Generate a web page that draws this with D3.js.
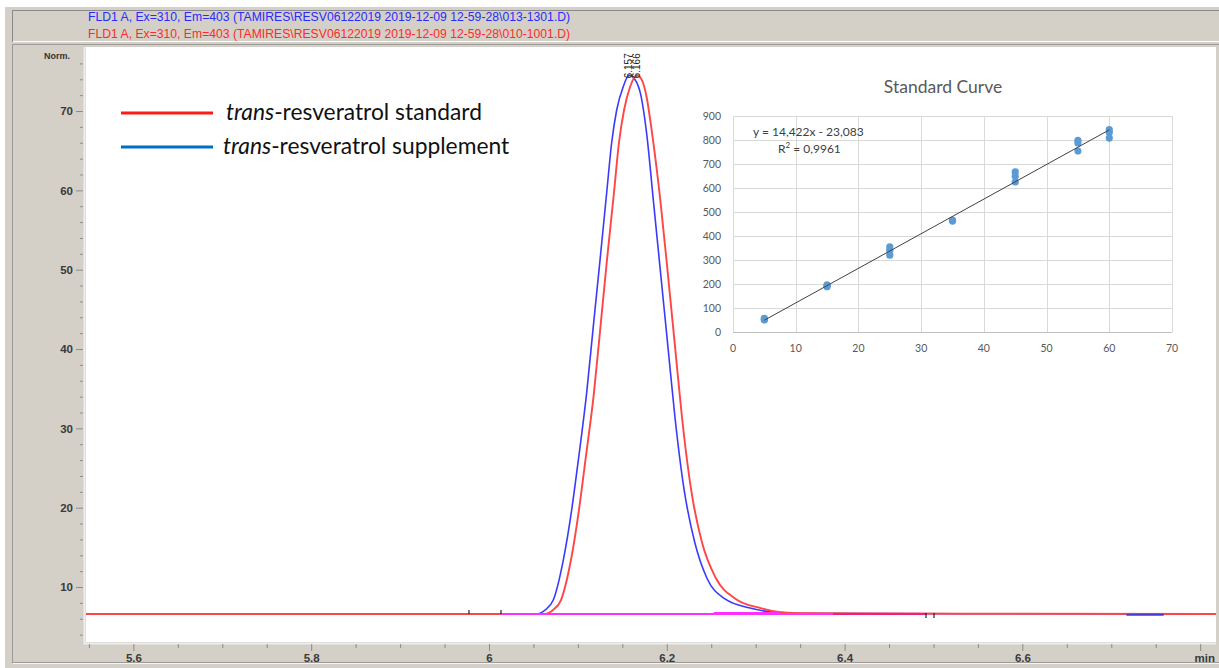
<!DOCTYPE html>
<html><head><meta charset="utf-8">
<script src="https://cdn.jsdelivr.net/npm/d3@7/dist/d3.min.js"></script>
<style>html,body{margin:0;padding:0;background:#fff;overflow:hidden}svg{display:block}</style>
</head><body>
<svg id="c" width="1219" height="668"></svg>
<script>
// ---------------- data ----------------
const headerLines = [
  "FLD1 A, Ex=310, Em=403 (TAMIRES\\RESV06122019 2019-12-09 12-59-28\\013-1301.D)",
  "FLD1 A, Ex=310, Em=403 (TAMIRES\\RESV06122019 2019-12-09 12-59-28\\010-1001.D)"
];
const xMajorTicks = [5.6, 5.8, 6.0, 6.2, 6.4, 6.6, 6.8];
const xTickLabels = ["5.6", "5.8", "6", "6.2", "6.4", "6.6", "min"];
const yMajorTicks = [10, 20, 30, 40, 50, 60, 70];
const yAxisTitle = "Norm.";

// supplement (blue) trace: retention time (min) / signal (Norm.)
const suppT = [5.54, 6.0537, 6.0630, 6.0723, 6.0836, 6.0930, 6.1005, 6.1099, 6.1173, 6.1249, 6.1324, 6.1380, 6.1436, 6.1511, 6.1575, 6.1640, 6.1710, 6.1771, 6.1852, 6.1931, 6.2012, 6.2092, 6.2193, 6.2313, 6.2452, 6.2655, 6.2936, 6.3172, 6.3330, 6.82];
const suppV = [6.6, 6.6, 7.1, 8.36, 13.4, 19.7, 26.0, 34.5, 42.8, 51.2, 59.7, 66.0, 70.1, 73.1, 74.5, 74.0, 71.9, 67.4, 58.4, 49.5, 40.4, 31.4, 22.4, 15.7, 11.1, 8.5, 7.35, 6.85, 6.7, 6.6];
// standard (red) trace
const stdT = [5.54, 6.0630, 6.0720, 6.0810, 6.0922, 6.1012, 6.1085, 6.1181, 6.1254, 6.1327, 6.1406, 6.1462, 6.1519, 6.1586, 6.1665, 6.1720, 6.1771, 6.1831, 6.1931, 6.2012, 6.2092, 6.2171, 6.2272, 6.2394, 6.2553, 6.2775, 6.3056, 6.3258, 6.3450, 6.82];
const stdV = [6.6, 6.6, 7.1, 8.36, 13.4, 19.7, 26.0, 34.5, 42.8, 51.2, 59.7, 66.0, 70.1, 73.0, 74.5, 73.9, 71.9, 67.5, 58.4, 49.5, 40.4, 31.4, 22.4, 15.7, 11.1, 8.5, 7.35, 6.85, 6.7, 6.6];

const peakTimes = [6.157, 6.166];
const peakLabels = ["6.157", "6.166"];
const peakTops = [74.5, 74.5];

// integration baselines / events
const magentaStart = [6.0146, 6.253];
const magentaEnd = [6.387, 6.327];
const magentaLevel = [6.6, 6.72];
const crimsonStart = [6.387];
const crimsonEnd = [6.4916];
const blueDipStart = [6.717];
const blueDipEnd = [6.759];
const blueDipLevel = [6.5];
const eventTimes = [5.9775, 6.0135, 6.4916, 6.5006];
const eventDir = [1, 1, -1, -1];

// legend
const legendItalic = ["trans", "trans"];
const legendRest = ["-resveratrol standard", "-resveratrol supplement"];
const legendColors = ["#ff1a1a", "#0070c0"];

// inset: standard curve
const insetTitle = "Standard Curve";
const concX = [5, 5, 5, 15, 15, 15, 25, 25, 25, 35, 35, 45, 45, 45, 55, 55, 55, 60, 60, 60];
const areaY = [57, 50, 53, 196, 189, 193, 355, 341, 320, 466, 462, 667, 649, 625, 799, 788, 754, 843, 831, 808];
const trendX = [5, 60];
const trendY = [49.0, 842.2];
const insetXTicks = [0, 10, 20, 30, 40, 50, 60, 70];
const insetYTicks = [0, 100, 200, 300, 400, 500, 600, 700, 800, 900];
const equationText = "y = 14,422x - 23,083";
const r2Text = ["R", "2", " = 0,9961"];

// ---------------- drawing ----------------
const svg = d3.select("#c");
const GRAY = "#d4d0c8";
const chemFont = "'Liberation Sans', Arial, sans-serif";
const xlFont = "Lato, 'Open Sans', sans-serif";

// frame
svg.append("rect").attr("x", 0).attr("y", 0).attr("width", 1219).attr("height", 668).attr("fill", "#fff");
svg.append("rect").attr("x", 5).attr("y", 7).attr("width", 1214).attr("height", 661).attr("fill", GRAY);
// header panel
svg.append("rect").attr("x", 12.5).attr("y", 10.5).attr("width", 1210).attr("height", 31).attr("fill", GRAY)
  .attr("stroke", "#8a8a8a").attr("stroke-width", 1);
svg.append("line").attr("x1", 13).attr("x2", 1219).attr("y1", 41.5).attr("y2", 41.5).attr("stroke", "#fff");
// plot panel border
svg.append("rect").attr("x", 12.5).attr("y", 44.5).attr("width", 1210).attr("height", 618).attr("fill", GRAY)
  .attr("stroke", "#9a9a9a");
svg.append("line").attr("x1", 13).attr("x2", 1219).attr("y1", 663.5).attr("y2", 663.5).attr("stroke", "#f4f4f4");

svg.selectAll("text.hdr").data(headerLines).join("text").attr("class", "hdr")
  .attr("x", 88).attr("y", (d, i) => 20.5 + i * 17)
  .attr("font-family", chemFont).attr("font-size", 12.2)
  .attr("fill", (d, i) => i === 0 ? "#2a2aff" : "#ff2a2a")
  .text(d => d);

// plot area
const L = 86, R = 1216, T = 47, B = 642;
const x = d3.scaleLinear().domain([5.5467, 6.8178]).range([L, R]);
const y = d3.scaleLinear().domain([3.07, 78.07]).range([B, T]);

svg.append("rect").attr("x", L).attr("y", T).attr("width", R - L).attr("height", B - T).attr("fill", "#fff");
svg.append("line").attr("x1", L - 1.5).attr("x2", L - 1.5).attr("y1", T).attr("y2", B + 2).attr("stroke", "#eeeeee").attr("stroke-width", 2);
svg.append("line").attr("x1", L - 2).attr("x2", R).attr("y1", B + 1.5).attr("y2", B + 1.5).attr("stroke", "#eeeeee").attr("stroke-width", 2);

svg.append("defs").append("clipPath").attr("id", "clip")
  .append("rect").attr("x", L).attr("y", T).attr("width", R - L).attr("height", B - T);

// y axis
const yMinor = d3.range(4, 78, 2).filter(v => v % 10 !== 0);
const yMinorAxis = svg.append("g").attr("transform", `translate(${L - 3},0)`)
  .call(d3.axisLeft(y).tickValues(yMinor).tickSize(3).tickFormat(""));
const yAxis = svg.append("g").attr("transform", `translate(${L - 3},0)`)
  .call(d3.axisLeft(y).tickValues(yMajorTicks).tickSize(7).tickPadding(3));
[yMinorAxis, yAxis].forEach(g => {
  g.select(".domain").remove();
  g.selectAll("line").attr("stroke", "#8c8c8c");
  g.selectAll("text").attr("font-family", chemFont).attr("font-size", 11.5).attr("fill", "#3a3a3a").attr("font-weight", "bold");
});
svg.append("text").attr("x", 57).attr("y", 59).attr("text-anchor", "middle")
  .attr("font-family", chemFont).attr("font-size", 9).attr("font-weight", "bold").attr("fill", "#333").text(yAxisTitle);

// x axis
const xMinor = d3.range(5.55, 6.81, 0.05).filter(v => Math.abs(v * 5 - Math.round(v * 5)) > 1e-6);
const xMinorAxis = svg.append("g").attr("transform", `translate(0,${B + 2})`)
  .call(d3.axisBottom(x).tickValues(xMinor).tickSize(4).tickFormat(""));
const xAxis = svg.append("g").attr("transform", `translate(0,${B + 2})`)
  .call(d3.axisBottom(x).tickValues(xMajorTicks).tickSize(7).tickPadding(3).tickFormat((d, i) => xTickLabels[i]));
[xMinorAxis, xAxis].forEach(g => {
  g.select(".domain").remove();
  g.selectAll("line").attr("stroke", "#8c8c8c");
  g.selectAll("text").attr("font-family", chemFont).attr("font-size", 11.5).attr("fill", "#3a3a3a").attr("font-weight", "bold");
});
xAxis.selectAll(".tick").filter((d, i) => xTickLabels[i] === "min").select("text").attr("text-anchor", "middle").attr("dx", 4);

// traces
const plot = svg.append("g").attr("clip-path", "url(#clip)");
const line = d3.line().x(d => x(d[0])).y(d => y(d[1])).curve(d3.curveMonotoneX);
const suppData = suppT.map((t, i) => [t, suppV[i]]);
const stdData = stdT.map((t, i) => [t, stdV[i]]);
plot.append("path").datum(suppData).attr("d", line).attr("fill", "none").attr("stroke", "#3a3aff").attr("stroke-width", 1.6);
plot.append("path").datum(stdData).attr("d", line).attr("fill", "none").attr("stroke", "#ff4545").attr("stroke-width", 1.9);

// integration baselines
magentaStart.forEach((s, i) => {
  plot.append("line").attr("x1", x(s)).attr("x2", x(magentaEnd[i])).attr("y1", y(magentaLevel[i])).attr("y2", y(magentaLevel[i]))
    .attr("stroke", "#ff30ff").attr("stroke-width", 2);
});
crimsonStart.forEach((s, i) => {
  plot.append("line").attr("x1", x(s)).attr("x2", x(crimsonEnd[i])).attr("y1", y(6.6)).attr("y2", y(6.6))
    .attr("stroke", "#f0207a").attr("stroke-width", 2);
});
blueDipStart.forEach((s, i) => {
  plot.append("line").attr("x1", x(s)).attr("x2", x(blueDipEnd[i])).attr("y1", y(blueDipLevel[i])).attr("y2", y(blueDipLevel[i]))
    .attr("stroke", "#4a3ad0").attr("stroke-width", 2);
});
eventTimes.forEach((t, i) => {
  const y0 = y(6.6);
  plot.append("line").attr("x1", x(t)).attr("x2", x(t))
    .attr("y1", eventDir[i] > 0 ? y0 - 4 : y0 - 1).attr("y2", eventDir[i] > 0 ? y0 : y0 + 4)
    .attr("stroke", "#222").attr("stroke-width", 1.2);
});

// peak labels
peakTimes.forEach((t, i) => {
  svg.append("text")
    .attr("transform", `translate(${x(t) + 3},${y(peakTops[i]) + 3}) rotate(-90)`)
    .attr("font-family", chemFont).attr("font-size", 10).attr("fill", "#222")
    .text(peakLabels[i]);
});

// legend
legendRest.forEach((txt, i) => {
  const yy = 113 + i * 34;
  svg.append("line").attr("x1", 121).attr("x2", 213).attr("y1", yy).attr("y2", yy)
    .attr("stroke", legendColors[i]).attr("stroke-width", 3);
  const t = svg.append("text").attr("x", i === 0 ? 226 : 223).attr("y", yy + 7)
    .attr("font-family", xlFont).attr("font-size", 22.8).attr("fill", "#111");
  t.append("tspan").attr("font-style", "italic").text(legendItalic[i]);
  t.append("tspan").text(txt);
});

// inset chart
const ix = d3.scaleLinear().domain([0, 70]).range([733, 1172]);
const iy = d3.scaleLinear().domain([0, 900]).range([332, 116]);
svg.append("rect").attr("x", 698).attr("y", 68).attr("width", 494).attr("height", 292).attr("fill", "#fff");
svg.append("text").attr("x", 943).attr("y", 93).attr("text-anchor", "middle")
  .attr("font-family", xlFont).attr("font-size", 17.5).attr("fill", "#595959").text(insetTitle);
svg.append("g").selectAll("line").data(insetYTicks.slice(1)).join("line")
  .attr("x1", ix(0)).attr("x2", ix(70)).attr("y1", d => Math.round(iy(d)) + 0.5).attr("y2", d => Math.round(iy(d)) + 0.5)
  .attr("stroke", "#d9d9d9");
svg.append("g").selectAll("line").data(insetXTicks).join("line")
  .attr("x1", d => Math.round(ix(d)) + 0.5).attr("x2", d => Math.round(ix(d)) + 0.5).attr("y1", iy(900)).attr("y2", iy(0))
  .attr("stroke", "#d9d9d9");
svg.append("line").attr("x1", ix(0)).attr("x2", ix(70)).attr("y1", Math.round(iy(0)) + 0.5).attr("y2", Math.round(iy(0)) + 0.5)
  .attr("stroke", "#bfbfbf");
svg.append("g").selectAll("text").data(insetYTicks).join("text")
  .attr("x", 721).attr("y", d => iy(d) + 4).attr("text-anchor", "end")
  .attr("font-family", xlFont).attr("font-size", 10.5).attr("fill", "#595959").text(d => d);
svg.append("g").selectAll("text").data(insetXTicks).join("text")
  .attr("x", d => ix(d)).attr("y", 352).attr("text-anchor", "middle")
  .attr("font-family", xlFont).attr("font-size", 10.5).attr("fill", "#595959").text(d => d);
svg.append("g").selectAll("circle").data(concX.map((c, i) => [c, areaY[i]])).join("circle")
  .attr("cx", d => ix(d[0])).attr("cy", d => iy(d[1])).attr("r", 3.6).attr("fill", "#5b9bd5");
svg.append("path").datum(trendX.map((c, i) => [c, trendY[i]]))
  .attr("d", d3.line().x(d => ix(d[0])).y(d => iy(d[1])))
  .attr("stroke", "#404040").attr("stroke-width", 1).attr("fill", "none");
svg.append("text").attr("x", 753).attr("y", 136).attr("font-family", xlFont).attr("font-size", 12).attr("fill", "#404040").text(equationText);
const r2 = svg.append("text").attr("x", 778).attr("y", 153).attr("font-family", xlFont).attr("font-size", 12).attr("fill", "#404040");
r2.append("tspan").text(r2Text[0]);
r2.append("tspan").attr("font-size", 8).attr("dy", -5).text(r2Text[1]);
r2.append("tspan").attr("dy", 5).text(r2Text[2]);
</script>
</body></html>
